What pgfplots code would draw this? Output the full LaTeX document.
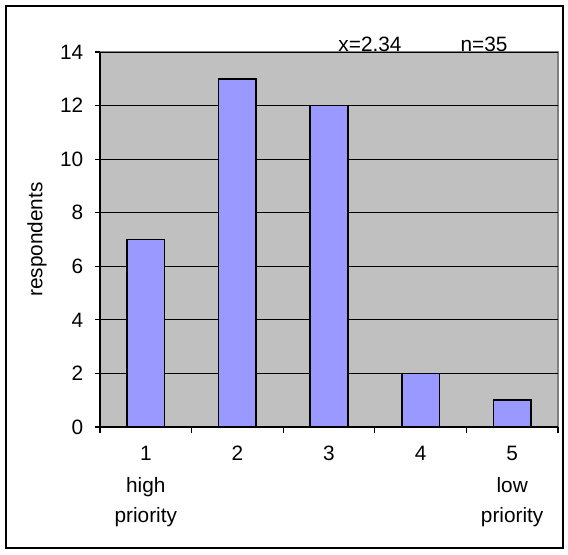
\documentclass[border=0pt]{standalone}
\usepackage{pgfplots}
\pgfplotsset{compat=1.18}
\usepackage{fontspec}
\setmainfont{Liberation Sans}
\definecolor{barblue}{HTML}{9999FF}
\definecolor{plotgray}{HTML}{C0C0C0}
\begin{document}
\begin{tikzpicture}
\useasboundingbox (0,0) rectangle (426pt,415.5pt);
\draw[black, line width=0.8pt] (4.5pt,4.5pt) rectangle (422.25pt,411pt);
\begin{axis}[
  at={(75pt,95.25pt)}, anchor=south west,
  scale only axis,
  width=343.5pt, height=281.25pt,
  xmin=0.5, xmax=5.5, ymin=0, ymax=14,
  ytick={0,2,...,14},
  xtick={1,2,3,4,5},
  xticklabels={{1\\[2pt]high\\priority},2,3,{4},{5\\[2pt]low\\priority}},
  minor xtick={0.5,1.5,...,5.5},
  tick align=outside,
  major tick length=4pt,
  major x tick style={draw=none},
  minor tick length=4.5pt,
  tick style={black, line width=0.8pt},
  axis x line*=bottom, axis y line*=left,
  axis line style={black, line width=1pt, -},
  axis background/.style={fill=plotgray, draw=gray, line width=0.8pt},
  ymajorgrids, grid style={black, line width=0.6pt},
  tick label style={font=\fontsize{15.6}{22}\selectfont},
  xticklabel style={align=center, anchor=north, yshift=-7pt},
  yticklabel style={xshift=-5pt},
  ylabel={respondents},
  every axis y label/.style={at={(rel axis cs:0,0.5)}, xshift=-47.25pt, rotate=90, anchor=center, font=\fontsize{15.6}{18}\selectfont},
  /pgf/number format/assume math mode=true,
  clip=false,
]
\addplot[ybar, bar width=0.41, fill=barblue, draw=black, line width=1.3pt]
  coordinates {(1,7) (2,13) (3,12) (4,2) (5,1)};
\node[font=\fontsize{15.6}{18}\selectfont, anchor=base] at (rel axis cs:0.5895,1) {x=2.34};
\node[font=\fontsize{15.6}{18}\selectfont, anchor=base] at (rel axis cs:0.8384,1) {n=35};
\end{axis}
\end{tikzpicture}
\end{document}
